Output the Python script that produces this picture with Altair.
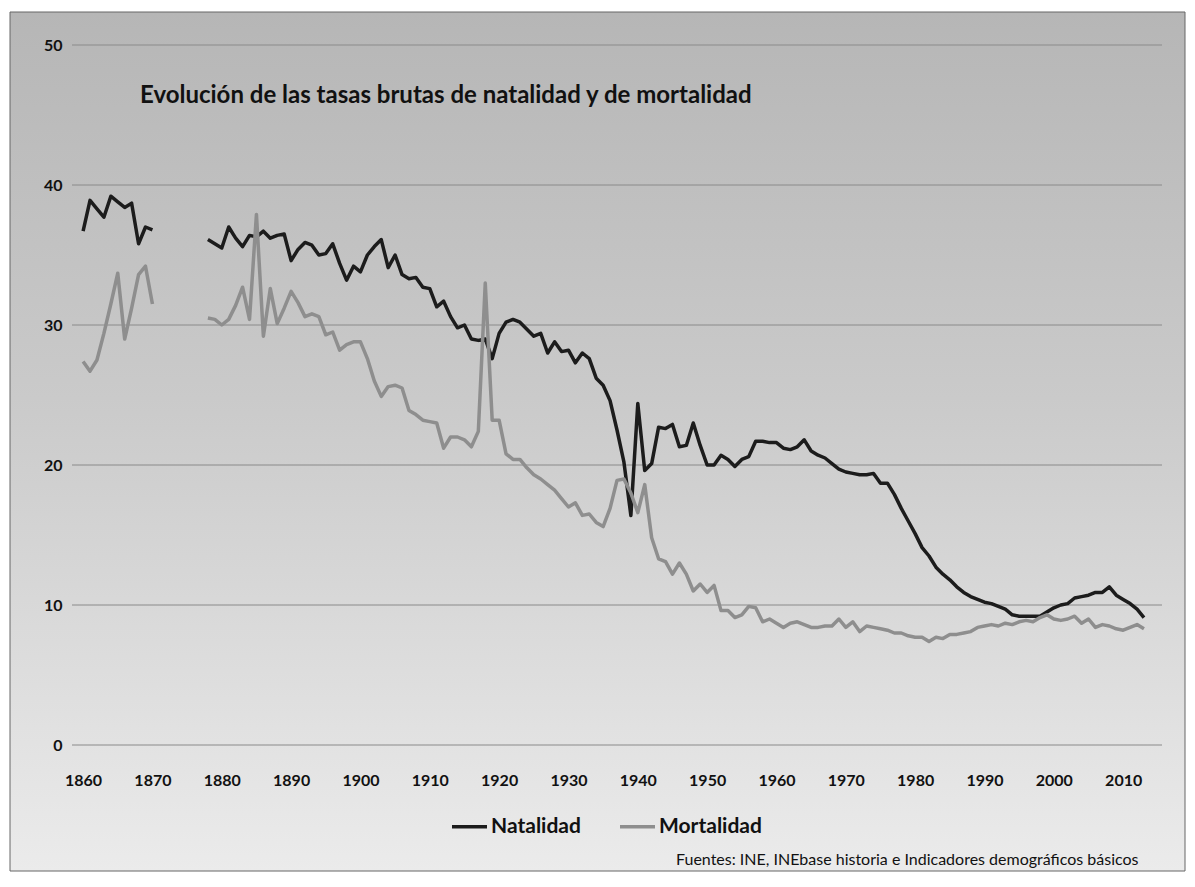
import altair as alt
import pandas as pd

# ---- data (tasas brutas por 1000 habitantes) ----
years_a = list(range(1860, 1871))
natalidad_a = [36.7, 38.9, 38.3, 37.7, 39.2, 38.8, 38.4, 38.7, 35.8, 37.0, 36.8]
mortalidad_a = [27.4, 26.7, 27.5, 29.4, 31.5, 33.7, 29.0, 31.2, 33.6, 34.2, 31.5]

years_b = list(range(1878, 2014))
natalidad_b = [
    36.1, 35.8,                                                  # 1878-1879
    35.5, 37.0, 36.2, 35.6, 36.4, 36.3, 36.7, 36.2, 36.4, 36.5,  # 1880s
    34.6, 35.4, 35.9, 35.7, 35.0, 35.1, 35.8, 34.4, 33.2, 34.2,  # 1890s
    33.8, 35.0, 35.6, 36.1, 34.1, 35.0, 33.6, 33.3, 33.4, 32.7,  # 1900s
    32.6, 31.3, 31.7, 30.6, 29.8, 30.0, 29.0, 28.9, 29.0, 27.6,  # 1910s
    29.4, 30.2, 30.4, 30.2, 29.7, 29.2, 29.4, 28.0, 28.8, 28.1,  # 1920s
    28.2, 27.3, 28.0, 27.6, 26.2, 25.7, 24.6, 22.5, 20.2, 16.4,  # 1930s
    24.4, 19.6, 20.1, 22.7, 22.6, 22.9, 21.3, 21.4, 23.0, 21.4,  # 1940s
    20.0, 20.0, 20.7, 20.4, 19.9, 20.4, 20.6, 21.7, 21.7, 21.6,  # 1950s
    21.6, 21.2, 21.1, 21.3, 21.8, 21.0, 20.7, 20.5, 20.1, 19.7,  # 1960s
    19.5, 19.4, 19.3, 19.3, 19.4, 18.7, 18.7, 17.9, 16.9, 16.0,  # 1970s
    15.1, 14.1, 13.5, 12.7, 12.2, 11.8, 11.3, 10.9, 10.6, 10.4,  # 1980s
    10.2, 10.1, 9.9, 9.7, 9.3, 9.2, 9.2, 9.2, 9.2, 9.5,          # 1990s
    9.8, 10.0, 10.1, 10.5, 10.6, 10.7, 10.9, 10.9, 11.3, 10.7,   # 2000s
    10.4, 10.1, 9.7, 9.1,                                        # 2010-2013
]
mortalidad_b = [
    30.5, 30.4,
    30.0, 30.4, 31.4, 32.7, 30.4, 37.9, 29.2, 32.6, 30.1, 31.2,
    32.4, 31.6, 30.6, 30.8, 30.6, 29.3, 29.5, 28.2, 28.6, 28.8,
    28.8, 27.6, 26.0, 24.9, 25.6, 25.7, 25.5, 23.9, 23.6, 23.2,
    23.1, 23.0, 21.2, 22.0, 22.0, 21.8, 21.3, 22.4, 33.0, 23.2,
    23.2, 20.8, 20.4, 20.4, 19.8, 19.3, 19.0, 18.6, 18.2, 17.6,
    17.0, 17.3, 16.4, 16.5, 15.9, 15.6, 16.9, 18.9, 19.0, 18.0,
    16.6, 18.6, 14.8, 13.3, 13.1, 12.2, 13.0, 12.2, 11.0, 11.5,
    10.9, 11.4, 9.6, 9.6, 9.1, 9.3, 9.9, 9.8, 8.8, 9.0,
    8.7, 8.4, 8.7, 8.8, 8.6, 8.4, 8.4, 8.5, 8.5, 9.0,
    8.4, 8.8, 8.1, 8.5, 8.4, 8.3, 8.2, 8.0, 8.0, 7.8,
    7.7, 7.7, 7.4, 7.7, 7.6, 7.9, 7.9, 8.0, 8.1, 8.4,
    8.5, 8.6, 8.5, 8.7, 8.6, 8.8, 8.9, 8.8, 9.1, 9.3,
    9.0, 8.9, 9.0, 9.2, 8.7, 9.0, 8.4, 8.6, 8.5, 8.3,
    8.2, 8.4, 8.6, 8.3,
]

series_names = ["Natalidad", "Mortalidad"]
series_colors = ["#1c1c1c", "#8e8e8e"]
y_ticks = [0, 10, 20, 30, 40, 50]
x_ticks = list(range(1860, 2011, 10))

titulo = "Evolución de las tasas brutas de natalidad y de mortalidad"
fuente = "Fuentes: INE, INEbase  historia e Indicadores demográficos básicos"

rows = []
for tramo, yrs, nat, mor in ((1, years_a, natalidad_a, mortalidad_a),
                             (2, years_b, natalidad_b, mortalidad_b)):
    for yr, n, m in zip(yrs, nat, mor):
        rows.append({"year": yr, "serie": "Natalidad", "valor": n, "tramo": tramo})
        rows.append({"year": yr, "serie": "Mortalidad", "valor": m, "tramo": tramo})
df = pd.DataFrame(rows)
grid_df = pd.DataFrame({"valor": y_ticks})

W, H = 1090, 700
FONT = "Lato"

x_scale = alt.Scale(domain=[1858.4, 2015.6], nice=False, zero=False)
y_scale = alt.Scale(domain=[0, 50], nice=False)


def y_axis():
    return alt.Axis(values=y_ticks, grid=False, domain=False, ticks=False, labelPadding=10,
                    labelFontSize=16, labelFontWeight="bold", labelColor="#111111",
                    labelFont=FONT, title=None, zindex=2)


background = alt.Chart(pd.DataFrame({"d": [0]})).mark_rect(
    color=alt.Gradient(
        gradient="linear",
        stops=[alt.GradientStop(color="#b6b6b6", offset=0),
               alt.GradientStop(color="#cacaca", offset=0.45),
               alt.GradientStop(color="#ebebeb", offset=1)],
        x1=0, x2=0, y1=0, y2=1),
    stroke="#666666", strokeWidth=1,
).encode(x=alt.value(-62), x2=alt.value(1113), y=alt.value(-33), y2=alt.value(826))

grid = alt.Chart(grid_df).mark_rule(color="#8a8a8a", strokeWidth=1).encode(
    y=alt.Y("valor:Q", scale=y_scale, axis=y_axis()),
    x=alt.value(0), x2=alt.value(W),
)

lines = alt.Chart(df).mark_line(strokeWidth=3.5, strokeJoin="round").encode(
    x=alt.X("year:Q", scale=x_scale,
            axis=alt.Axis(values=x_ticks, format="d", grid=False, domain=False, ticks=False,
                          labelPadding=27, labelFontSize=16, labelFontWeight="bold",
                          labelColor="#111111", labelFont=FONT, zindex=2,
                          title=fuente, titleFont=FONT, titleFontSize=16, titleFontWeight="normal",
                          titleColor="#111111", titleX=1066, titleY=119, titleAlign="right",
                          titleBaseline="alphabetic")),
    y=alt.Y("valor:Q", scale=y_scale, axis=y_axis()),
    color=alt.Color("serie:N", sort=series_names,
                    scale=alt.Scale(domain=series_names, range=series_colors),
                    legend=alt.Legend(orient="none", legendX=378, legendY=762, direction="horizontal",
                                      title=None, symbolType="stroke", symbolSize=1225,
                                      symbolStrokeWidth=3.5, labelFontSize=21, labelFontWeight="bold",
                                      labelFont=FONT, labelColor="#111111", labelOffset=2,
                                      columnPadding=32, zindex=2)),
    detail="tramo:N",
    order="year:Q",
)

chart = alt.layer(background, grid, lines).properties(
    width=W, height=H,
    padding={"left": 64, "top": 37, "right": 25, "bottom": 128},
    autosize=alt.AutoSizeParams(type="none"),
    background="white",
    title=alt.TitleParams(text=titulo, anchor="start", frame="group", orient="top",
                          baseline="alphabetic", offset=0, dx=68, dy=115, zindex=2,
                          font=FONT, fontSize=24, fontWeight="bold", color="#111111"),
).configure_view(stroke=None)

chart.save("out.html", embed_options={"renderer": "svg", "actions": False})
